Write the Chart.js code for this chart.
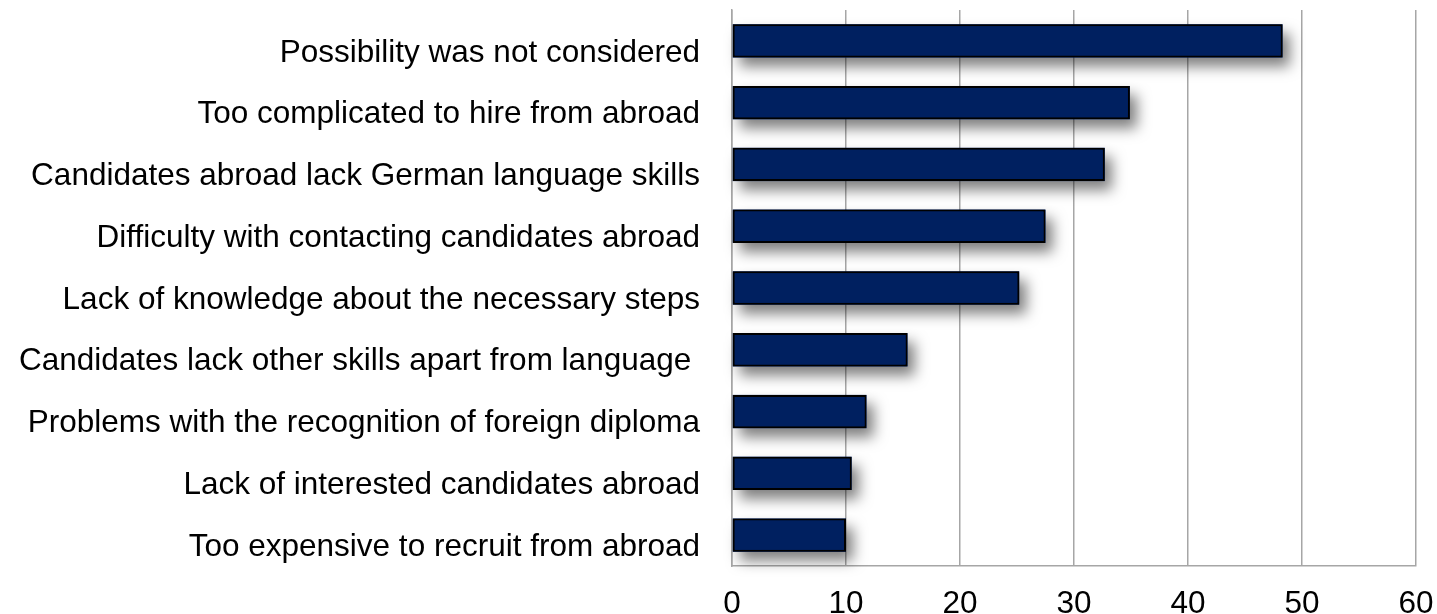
<!DOCTYPE html>
<html lang="en">
<head>
    <meta charset="UTF-8">
    <title>Reasons for not recruiting from abroad</title>
    <script src="https://cdn.jsdelivr.net/npm/chart.js"></script>
    <style>
        html, body {
            margin: 0;
            padding: 0;
            background: #ffffff;
        }

        .chart-wrapper {
            position: relative;
            width: 1437px;
            height: 614px;
        }
    </style>
</head>
<body>
    <div class="chart-wrapper">
        <canvas id="reasonsChart"></canvas>
    </div>

    <script>
        // Reasons, top to bottom
        const reasons = [
            'Possibility was not considered',
            'Too complicated to hire from abroad',
            'Candidates abroad lack German language skills',
            'Difficulty with contacting candidates abroad',
            'Lack of knowledge about the necessary steps',
            'Candidates lack other skills apart from language ',
            'Problems with the recognition of foreign diploma',
            'Lack of interested candidates abroad',
            'Too expensive to recruit from abroad'
        ];

        // Share of companies (%)
        const shares = [48.3, 34.9, 32.7, 27.5, 25.2, 15.4, 11.8, 10.5, 10.0];

        const xTicks = [0, 10, 20, 30, 40, 50, 60];

        const FONT = "'Liberation Sans', Arial, sans-serif";
        const FONT_SIZE = 31.5;
        const GRID = '#a6a6a6';

        // The bar element clips its own drawing, so the drop shadow is painted
        // separately underneath each bar before the datasets are drawn.
        const barShadow = {
            id: 'barShadow',
            beforeDatasetsDraw(chart) {
                const ctx = chart.ctx;
                const meta = chart.getDatasetMeta(0);
                ctx.save();
                ctx.shadowColor = 'rgba(0, 0, 0, 0.5)';
                ctx.shadowBlur = 14;
                ctx.shadowOffsetX = 7;
                ctx.shadowOffsetY = 9;
                ctx.fillStyle = '#002060';
                meta.data.forEach(bar => {
                    const { x, y, base, height } = bar.getProps(['x', 'y', 'base', 'height'], true);
                    ctx.fillRect(base, y - height / 2, x - base, height);
                });
                ctx.restore();
            }
        };

        const config = {
            type: 'bar',
            data: {
                labels: reasons,
                datasets: [{
                    data: shares,
                    backgroundColor: '#002060',
                    borderColor: '#000000',
                    borderWidth: 2,
                    borderSkipped: false,
                    barPercentage: 0.54,
                    categoryPercentage: 1
                }]
            },
            plugins: [barShadow],
            options: {
                indexAxis: 'y',
                responsive: true,
                maintainAspectRatio: false,
                animation: false,
                layout: {
                    padding: { top: 10, right: 0, bottom: 0, left: 0 }
                },
                plugins: {
                    legend: { display: false },
                    tooltip: { enabled: false }
                },
                scales: {
                    x: {
                        min: 0,
                        max: 60,
                        afterBuildTicks(scale) {
                            scale.ticks = xTicks.map(v => ({ value: v }));
                        },
                        afterFit(scale) {
                            scale.height = 48;
                            scale.paddingLeft = 0;
                            scale.paddingRight = 21;
                        },
                        grid: {
                            color: GRID,
                            lineWidth: 1.5,
                            drawTicks: false
                        },
                        border: { color: GRID, width: 1.5 },
                        ticks: {
                            color: '#000000',
                            padding: 19,
                            maxRotation: 0,
                            font: { family: FONT, size: FONT_SIZE }
                        }
                    },
                    y: {
                        afterFit(scale) {
                            scale.width = 732;
                            scale.paddingTop = 0;
                            scale.paddingBottom = 0;
                        },
                        grid: { display: false, drawTicks: false },
                        border: { color: GRID, width: 1.5 },
                        ticks: {
                            color: '#000000',
                            padding: 32,
                            labelOffset: 12,
                            autoSkip: false,
                            font: { family: FONT, size: FONT_SIZE }
                        }
                    }
                }
            }
        };

        const ctx = document.getElementById('reasonsChart').getContext('2d');
        const reasonsChart = new Chart(ctx, config);
    </script>
</body>
</html>
